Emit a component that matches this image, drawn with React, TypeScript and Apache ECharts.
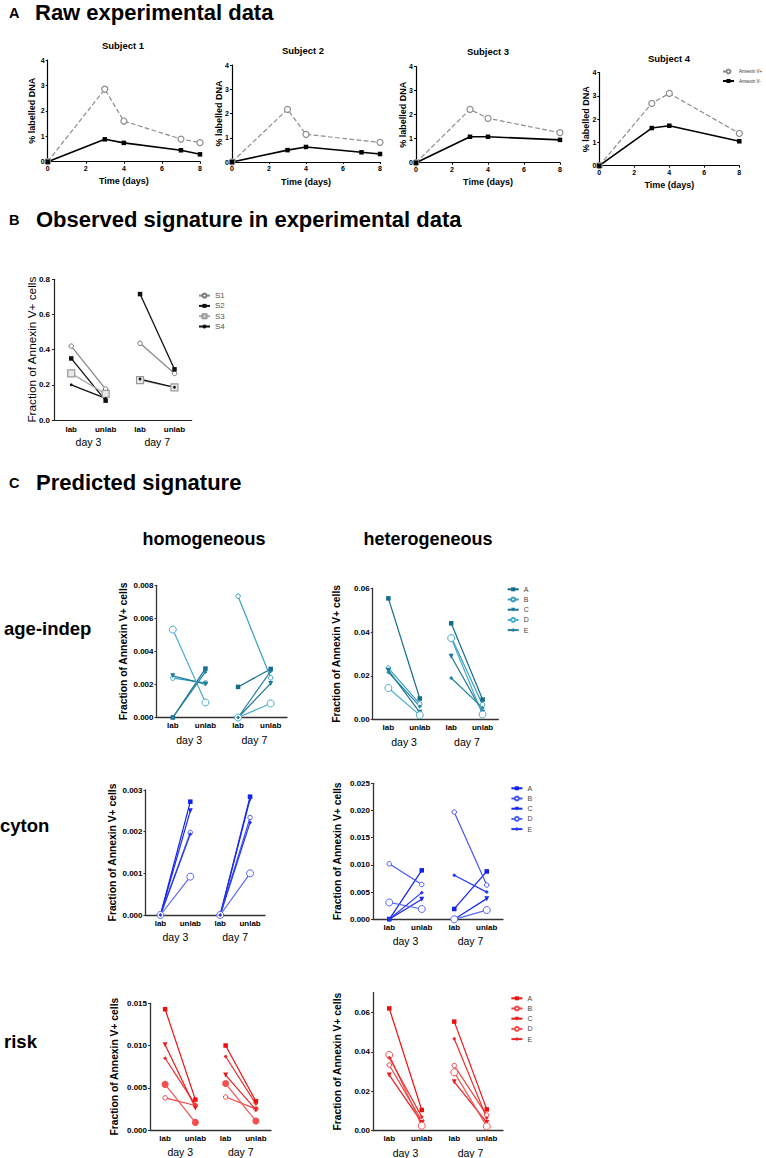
import React, { useEffect, useRef } from 'react';
import * as echarts from 'echarts';

// ---------- Section A: raw experimental data ----------
const subjectTitles = ['Subject 1', 'Subject 2', 'Subject 3', 'Subject 4'];
const rawSeriesNames = ['Annexin V+', 'Annexin V-'];
const subject1PosDays = [0, 3, 4, 7, 8];
const subject1Pos = [0, 2.85, 1.6, 0.89, 0.75];
const subject1NegDays = [0, 3, 4, 7, 8];
const subject1Neg = [0, 0.88, 0.74, 0.45, 0.29];
const subject2PosDays = [0, 3, 4, 8];
const subject2Pos = [0, 2.17, 1.14, 0.81];
const subject2NegDays = [0, 3, 4, 7, 8];
const subject2Neg = [0, 0.49, 0.62, 0.4, 0.33];
const subject3PosDays = [0, 3, 4, 8];
const subject3Pos = [0, 2.22, 1.85, 1.25];
const subject3NegDays = [0, 3, 4, 8];
const subject3Neg = [0, 1.08, 1.08, 0.95];
const subject4PosDays = [0, 3, 4, 8];
const subject4Pos = [0, 2.68, 3.11, 1.39];
const subject4NegDays = [0, 3, 4, 8];
const subject4Neg = [0, 1.62, 1.72, 1.05];

// ---------- Section B: observed signature ----------
const conditions = ['lab', 'unlab', 'lab', 'unlab'];
const dayLabels = ['day 3', 'day 7'];
const observedNames = ['S1', 'S2', 'S3', 'S4'];
const observedS1 = [0.42, 0.176, 0.436, 0.265];
const observedS2 = [0.35, 0.11, 0.716, 0.288];
const observedS3 = [0.265, 0.148, 0.227, 0.186];
const observedS4 = [0.2, 0.123, 0.233, 0.186];

// ---------- Section C: predicted signature ([d3 lab, d3 unlab, d7 lab, d7 unlab]) ----------
const letters = ['A', 'B', 'C', 'D', 'E'];
const ageHomA = [0, 0.00296, 0.00185, 0.00294];
const ageHomB = [0.00238, 0.0021, 0.00734, 0.0024];
const ageHomC = [0.00252, 0.00202, 0, 0.00206];
const ageHomD = [0.00532, 0.00091, 0, 0.00085];
const ageHomE = [0, 0.00276, 0, 0.0028];

const ageHetA = [0.0554, 0.0096, 0.044, 0.0091];
const ageHetB = [0.0235, 0.0071, 0.0377, 0.0068];
const ageHetC = [0.0225, 0.0033, 0.0289, 0.0033];
const ageHetD = [0.0144, 0.002, 0.0372, 0.0023];
const ageHetE = [0.0216, 0.006, 0.019, 0.0053];

const cytHomA = [0, 0.00272, 0, 0.00284];
const cytHomB = [0, 0.00198, 0, 0.00234];
const cytHomC = [0, 0.0025, 0, 0.00278];
const cytHomD = [0, 0.00092, 0, 0.001];
const cytHomE = [0, 0.00194, 0, 0.00222];

const cytHetA = [0, 0.009, 0.0019, 0.0088];
const cytHetB = [0.0102, 0.0064, 0.0197, 0.0063];
const cytHetC = [0, 0.0037, 0, 0.0038];
const cytHetD = [0.0031, 0.0019, 0, 0.0017];
const cytHetE = [0, 0.0049, 0.0081, 0.005];

const riskHomA = [0.0143, 0.0036, 0.01, 0.0034];
const riskHomB = [0.0038, 0.0029, 0.0039, 0.0025];
const riskHomC = [0.0101, 0.0026, 0.0065, 0.0024];
const riskHomD = [0.0054, 0.0009, 0.0055, 0.00107];
const riskHomE = [0.0085, 0.003, 0.0087, 0.0031];

const riskHetA = [0.062, 0.0105, 0.0553, 0.0108];
const riskHetB = [0.0333, 0.005, 0.033, 0.0079];
const riskHetC = [0.0282, 0.0042, 0.0248, 0.0042];
const riskHetD = [0.0384, 0.0025, 0.0296, 0.0022];
const riskHetE = [0.037, 0.0071, 0.0466, 0.0065];

const FONT = "'Liberation Sans', Arial, Helvetica, sans-serif";

function txt(text: string, x: number, y: number, size: number, weight = 'bold', align = 'left') {
  return {
    type: 'text',
    x,
    y,
    silent: true,
    style: {
      text,
      fontSize: size,
      fontWeight: weight,
      fontFamily: FONT,
      fill: '#000',
      align,
      verticalAlign: 'middle',
      textAlign: align,
      textVerticalAlign: 'middle',
    },
  };
}

function buildOption() {
  const grids: any[] = [];
  const xAxes: any[] = [];
  const yAxes: any[] = [];
  const series: any[] = [];
  const legends: any[] = [];
  const graphics: any[] = [];

  // headings
  graphics.push(txt('A', 9, 12.5, 14.5));
  graphics.push(txt('Raw experimental data', 35, 12.5, 22));
  graphics.push(txt('B', 9, 219.5, 14.5));
  graphics.push(txt('Observed signature in experimental data', 36, 219, 22));
  graphics.push(txt('C', 9, 482.5, 14.5));
  graphics.push(txt('Predicted signature', 36, 482, 22));
  graphics.push(txt('homogeneous', 204, 538.5, 18, 'bold', 'center'));
  graphics.push(txt('heterogeneous', 428, 538.5, 18, 'bold', 'center'));
  graphics.push(txt('age-indep', 4, 628, 18.5));
  graphics.push(txt('cyton', 0, 825, 18.5));
  graphics.push(txt('risk', 4, 1041.5, 18.5));

  // ---------- Section A ----------
  const rawSubjects = [
    { pd: subject1PosDays, p: subject1Pos, nd: subject1NegDays, n: subject1Neg },
    { pd: subject2PosDays, p: subject2Pos, nd: subject2NegDays, n: subject2Neg },
    { pd: subject3PosDays, p: subject3Pos, nd: subject3NegDays, n: subject3Neg },
    { pd: subject4PosDays, p: subject4Pos, nd: subject4NegDays, n: subject4Neg },
  ];
  const rawLayout = [
    { left: 47.7, top: 60, width: 152.3, height: 101.7, tx: 123, ty: 45, gap: 11 },
    { left: 232, top: 65, width: 148, height: 97, tx: 303, ty: 50, gap: 9 },
    { left: 416, top: 66.7, width: 144, height: 96, tx: 488, ty: 51.7, gap: 9 },
    { left: 599.3, top: 72.7, width: 140, height: 93, tx: 669, ty: 58.3, gap: 8.5 },
  ];
  const aLabel = { fontSize: 7, fontWeight: 'bold', color: '#000', fontFamily: FONT, margin: 3 };
  const aName = { fontSize: 9, fontWeight: 'bold', color: '#000', fontFamily: FONT };
  rawSubjects.forEach((s, i) => {
    const L = rawLayout[i];
    const gi = grids.length;
    grids.push({ left: L.left, top: L.top, width: L.width, height: L.height, containLabel: false, outerBoundsMode: 'none' });
    const xi = xAxes.length;
    xAxes.push({
      type: 'value', gridIndex: gi, min: 0, max: 8, interval: 2,
      name: 'Time (days)', nameLocation: 'middle', nameGap: 15, nameMoveOverlap: false, nameTextStyle: aName,
      axisLine: { show: true, onZero: false, lineStyle: { color: '#000', width: 1.2 } },
      axisTick: { show: true, length: 2, lineStyle: { color: '#000' } },
      axisLabel: aLabel, splitLine: { show: false },
    });
    const yi = yAxes.length;
    yAxes.push({
      type: 'value', gridIndex: gi, min: 0, max: 4, interval: 1,
      name: '% labelled DNA', nameLocation: 'middle', nameGap: L.gap, nameMoveOverlap: false, nameTextStyle: aName,
      axisLine: { show: true, onZero: false, lineStyle: { color: '#000', width: 1.2 } },
      axisTick: { show: true, length: 2, lineStyle: { color: '#000' } },
      axisLabel: aLabel, splitLine: { show: false },
    });
    series.push({
      type: 'line', name: rawSeriesNames[0], xAxisIndex: xi, yAxisIndex: yi,
      data: s.pd.map((d, k) => [d, s.p[k]]),
      symbol: 'circle', symbolSize: 6,
      lineStyle: { type: 'dashed', color: '#8c8c8c', width: 1.2 },
      itemStyle: { color: '#fff', borderColor: '#8c8c8c', borderWidth: 1.2 },
    });
    series.push({
      type: 'line', name: rawSeriesNames[1], xAxisIndex: xi, yAxisIndex: yi,
      data: s.nd.map((d, k) => [d, s.n[k]]),
      symbol: 'rect', symbolSize: 4.5,
      lineStyle: { color: '#000', width: 1.6 },
      itemStyle: { color: '#000' },
    });
    graphics.push(txt(subjectTitles[i], L.tx, L.ty, 9.5, 'bold', 'center'));
  });
  legends.push({
    data: rawSeriesNames, orient: 'vertical', left: 722, top: 68.5, padding: 0, itemWidth: 11, itemHeight: 5, itemGap: 4,
    selectedMode: false, textStyle: { fontSize: 4.5, color: '#333', fontFamily: FONT },
  });

  // ---------- Section B ----------
  {
    const gi = grids.length;
    grids.push({ left: 54, top: 279.3, width: 137.7, height: 140.7, containLabel: false, outerBoundsMode: 'none' });
    const xi = xAxes.length;
    xAxes.push({
      type: 'category', gridIndex: gi, data: conditions, position: 'bottom',
      axisLine: { show: true, onZero: false, lineStyle: { color: '#222', width: 1.2 } },
      axisTick: { show: false },
      axisLabel: { interval: 0, fontSize: 8, fontWeight: 'bold', color: '#000', fontFamily: FONT, margin: 5 },
    });
    xAxes.push({
      type: 'category', gridIndex: gi, data: dayLabels, position: 'bottom', offset: 12.5,
      axisLine: { show: false }, axisTick: { show: false },
      axisLabel: { interval: 0, fontSize: 10.5, color: '#000', fontFamily: FONT, margin: 4 },
    });
    const yi = yAxes.length;
    yAxes.push({
      type: 'value', gridIndex: gi, min: 0, max: 0.8, interval: 0.2,
      name: 'Fraction of Annexin V+ cells', nameLocation: 'middle', nameGap: 16, nameMoveOverlap: false,
      nameTextStyle: { fontSize: 11.8, color: '#000', fontFamily: FONT },
      axisLine: { show: true, onZero: false, lineStyle: { color: '#222', width: 1.2 } },
      axisTick: { show: true, length: 2, lineStyle: { color: '#222' } },
      axisLabel: { fontSize: 8, fontWeight: 'bold', color: '#000', fontFamily: FONT, margin: 4, formatter: (v: number) => v.toFixed(1) },
      splitLine: { show: false },
    });
    const obs = [observedS1, observedS2, observedS3, observedS4];
    const styles = [
      { symbol: 'circle', size: 4.5, line: '#8a8a8a', item: { color: '#fff', borderColor: '#777', borderWidth: 1 } },
      { symbol: 'rect', size: 4.5, line: '#111', item: { color: '#111' } },
      { symbol: 'rect', size: 7, line: '#a8a8a8', item: { color: '#e8e8e8', borderColor: '#999', borderWidth: 1.2 } },
      { symbol: 'circle', size: 2.8, line: '#111', item: { color: '#111' } },
    ];
    obs.forEach((vals, i) => {
      const st = styles[i];
      const base = {
        type: 'line', name: observedNames[i], xAxisIndex: xi, yAxisIndex: yi,
        symbol: st.symbol, symbolSize: st.size,
        lineStyle: { color: st.line, width: 1.3 }, itemStyle: st.item,
      };
      series.push({ ...base, data: [vals[0], vals[1], '-', '-'] });
      series.push({ ...base, data: ['-', '-', vals[2], vals[3]] });
    });
    legends.push({
      data: observedNames, orient: 'vertical', left: 198, top: 291.6, padding: 0, itemWidth: 11, itemHeight: 5, itemGap: 2.3,
      selectedMode: false, textStyle: { fontSize: 8, lineHeight: 8, color: '#555', fontFamily: FONT },
    });
  }

  // ---------- Section C ----------
  const teal = ['#126d8b', '#3a9dbf', '#1a7896', '#4aaccb', '#23809f'];
  const blue = ['#1020ee', '#4656f2', '#1a2ae8', '#5666f4', '#2838ec'];
  const red = ['#ee1010', '#f04444', '#ea1a1a', '#f25050', '#ee2828'];
  const letterStyles = [
    { symbol: 'rect', size: 4.5, filled: true, rotate: 0 },
    { symbol: 'circle', size: 4.5, filled: false, rotate: 0 },
    { symbol: 'triangle', size: 5, filled: true, rotate: 180 },
    { symbol: 'circle', size: 7, filled: false, rotate: 0 },
    { symbol: 'diamond', size: 4, filled: true, rotate: 0 },
  ];
  const cPanels = [
    { key: 'ageHom', data: [ageHomA, ageHomB, ageHomC, ageHomD, ageHomE], colors: teal, solidD: false,
      left: 156.5, top: 585.3, width: 130.5, height: 132.2, max: 0.008, interval: 0.002, dec: 3, gap: 28.5, legend: null },
    { key: 'ageHet', data: [ageHetA, ageHetB, ageHetC, ageHetD, ageHetE], colors: teal, solidD: false,
      left: 372.7, top: 588.3, width: 125.6, height: 131.2, max: 0.06, interval: 0.02, dec: 2, gap: 31, legend: { left: 506.7, top: 585.3 } },
    { key: 'cytHom', data: [cytHomA, cytHomB, cytHomC, cytHomD, cytHomE], colors: blue, solidD: false,
      left: 145.5, top: 790, width: 119.5, height: 125, max: 0.003, interval: 0.001, dec: 3, gap: 28, legend: null },
    { key: 'cytHet', data: [cytHetA, cytHetB, cytHetC, cytHetD, cytHetE], colors: blue, solidD: false,
      left: 373, top: 783.3, width: 130, height: 136, max: 0.025, interval: 0.005, dec: 3, gap: 30.7, legend: { left: 510.4, top: 784.3 } },
    { key: 'riskHom', data: [riskHomA, riskHomB, riskHomC, riskHomD, riskHomE], colors: red, solidD: true,
      left: 150, top: 1003.3, width: 121, height: 126.7, max: 0.015, interval: 0.005, dec: 3, gap: 31, legend: null },
    { key: 'riskHet', data: [riskHetA, riskHetB, riskHetC, riskHetD, riskHetE], colors: red, solidD: false,
      left: 373, top: 992.6, width: 130, height: 138.1, max: 0.07, interval: 0.02, dec: 2, gap: 30.7, legend: { left: 510.4, top: 994.3 } },
  ];
  cPanels.forEach((P) => {
    const gi = grids.length;
    grids.push({ left: P.left, top: P.top, width: P.width, height: P.height, containLabel: false, outerBoundsMode: 'none' });
    const xi = xAxes.length;
    xAxes.push({
      type: 'category', gridIndex: gi, data: conditions, position: 'bottom',
      axisLine: { show: true, onZero: false, lineStyle: { color: '#333', width: 1.3 } },
      axisTick: { show: false },
      axisLabel: { interval: 0, fontSize: 8, fontWeight: 'bold', color: '#000', fontFamily: FONT, margin: 4 },
    });
    xAxes.push({
      type: 'category', gridIndex: gi, data: dayLabels, position: 'bottom', offset: 12.5,
      axisLine: { show: false }, axisTick: { show: false },
      axisLabel: { interval: 0, fontSize: 10.5, color: '#000', fontFamily: FONT, margin: 4 },
    });
    const yi = yAxes.length;
    yAxes.push({
      type: 'value', gridIndex: gi, min: 0, max: P.max, interval: P.interval,
      name: 'Fraction of Annexin V+ cells', nameLocation: 'middle', nameGap: P.gap, nameMoveOverlap: false,
      nameTextStyle: { fontSize: 10.3, fontWeight: 'bold', color: '#000', fontFamily: FONT },
      axisLine: { show: true, onZero: false, lineStyle: { color: '#333', width: 1.3 } },
      axisTick: { show: true, length: 2, lineStyle: { color: '#333' } },
      axisLabel: {
        fontSize: 8, fontWeight: 'bold', color: '#000', fontFamily: FONT, margin: 3,
        showMaxLabel: P.max === 0.07 ? false : true,
        formatter: (v: number) => v.toFixed(P.dec),
      },
      splitLine: { show: false },
    });
    P.data.forEach((vals, li) => {
      const st = letterStyles[li];
      const c = P.colors[li];
      const filled = st.filled || (li === 3 && P.solidD);
      const base = {
        type: 'line', name: `${P.key}|${letters[li]}`, xAxisIndex: xi, yAxisIndex: yi,
        symbol: st.symbol, symbolSize: st.size, symbolRotate: st.rotate,
        lineStyle: { color: c, width: 1.2 },
        itemStyle: filled ? { color: c } : { color: '#fff', borderColor: c, borderWidth: 1 },
      };
      series.push({ ...base, data: [vals[0], vals[1], '-', '-'] });
      series.push({ ...base, data: ['-', '-', vals[2], vals[3]] });
    });
    if (P.legend) {
      legends.push({
        data: letters.map((l) => `${P.key}|${l}`), orient: 'vertical', left: P.legend.left, top: P.legend.top,
        padding: 0, itemWidth: 11, itemHeight: 5, itemGap: 2.2, selectedMode: false,
        formatter: (name: string) => name.split('|')[1],
        textStyle: { fontSize: 7, lineHeight: 8, color: '#444', fontFamily: FONT },
      });
    }
  });

  return {
    animation: false,
    backgroundColor: '#fff',
    textStyle: { fontFamily: FONT },
    tooltip: { show: false },
    grid: grids,
    xAxis: xAxes,
    yAxis: yAxes,
    legend: legends,
    series,
    graphic: graphics,
  };
}

export default function App() {
  const ref = useRef<HTMLDivElement>(null);
  useEffect(() => {
    document.body.style.margin = '0';
    const chart = echarts.init(ref.current as HTMLDivElement, null, { renderer: 'svg' });
    chart.setOption(buildOption() as any);
    return () => chart.dispose();
  }, []);
  return <div ref={ref} style={{ width: 766, height: 1158, overflow: 'hidden' }} />;
}
